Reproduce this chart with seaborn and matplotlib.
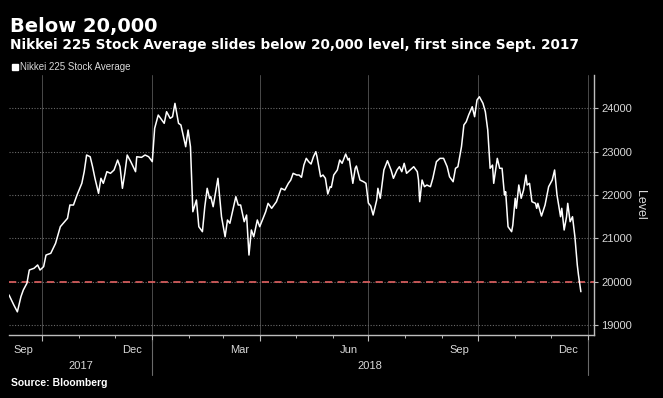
import matplotlib

matplotlib.use("Agg")
import matplotlib.pyplot as plt
import matplotlib.dates as mdates
import matplotlib.transforms as mtransforms
from matplotlib.lines import Line2D
import pandas as pd
import seaborn as sns

# ===================== 数据 =====================
dates = [
    "2017-09-03", "2017-09-07", "2017-09-10", "2017-09-13", "2017-09-15", "2017-09-18", "2017-09-20",
    "2017-09-24", "2017-09-27", "2017-09-29", "2017-10-02", "2017-10-04", "2017-10-08", "2017-10-12",
    "2017-10-16", "2017-10-22", "2017-10-24", "2017-10-27", "2017-10-30", "2017-11-03", "2017-11-05",
    "2017-11-07", "2017-11-10", "2017-11-12", "2017-11-14", "2017-11-17", "2017-11-19", "2017-11-21",
    "2017-11-24", "2017-11-27", "2017-11-30", "2017-12-03", "2017-12-05", "2017-12-07", "2017-12-09",
    "2017-12-11", "2017-12-14", "2017-12-18", "2017-12-19", "2017-12-23", "2017-12-26", "2017-12-29",
    "2018-01-01", "2018-01-03", "2018-01-06", "2018-01-08", "2018-01-11", "2018-01-13", "2018-01-16",
    "2018-01-18", "2018-01-20", "2018-01-23", "2018-01-25", "2018-01-29", "2018-01-31", "2018-02-02",
    "2018-02-04", "2018-02-07", "2018-02-08", "2018-02-09", "2018-02-12", "2018-02-14", "2018-02-16",
    "2018-02-18", "2018-02-19", "2018-02-21", "2018-02-25", "2018-02-28", "2018-03-03", "2018-03-05",
    "2018-03-07", "2018-03-12", "2018-03-14", "2018-03-16", "2018-03-19", "2018-03-21", "2018-03-23",
    "2018-03-25", "2018-03-27", "2018-03-30", "2018-04-01", "2018-04-06", "2018-04-08", "2018-04-11",
    "2018-04-15", "2018-04-19", "2018-04-22", "2018-04-25", "2018-04-27", "2018-04-29", "2018-05-02",
    "2018-05-04", "2018-05-06", "2018-05-08", "2018-05-10", "2018-05-12", "2018-05-14", "2018-05-16",
    "2018-05-18", "2018-05-19", "2018-05-22", "2018-05-24", "2018-05-26", "2018-05-28", "2018-05-30",
    "2018-05-31", "2018-06-02", "2018-06-05", "2018-06-07", "2018-06-09", "2018-06-12", "2018-06-14",
    "2018-06-15", "2018-06-18", "2018-06-20", "2018-06-21", "2018-06-24", "2018-06-27", "2018-06-29",
    "2018-07-01", "2018-07-03", "2018-07-05", "2018-07-08", "2018-07-09", "2018-07-11", "2018-07-14",
    "2018-07-17", "2018-07-20", "2018-07-22", "2018-07-25", "2018-07-27", "2018-07-29", "2018-07-31",
    "2018-08-02", "2018-08-05", "2018-08-08", "2018-08-11", "2018-08-12", "2018-08-13", "2018-08-15",
    "2018-08-17", "2018-08-19", "2018-08-22", "2018-08-24", "2018-08-27", "2018-08-30", "2018-09-02",
    "2018-09-05", "2018-09-07", "2018-09-10", "2018-09-12", "2018-09-14", "2018-09-17", "2018-09-19",
    "2018-09-21", "2018-09-23", "2018-09-26", "2018-09-28", "2018-09-30", "2018-10-02", "2018-10-05",
    "2018-10-07", "2018-10-09", "2018-10-11", "2018-10-13", "2018-10-14", "2018-10-17", "2018-10-19",
    "2018-10-21", "2018-10-23", "2018-10-24", "2018-10-26", "2018-10-29", "2018-10-30", "2018-11-01",
    "2018-11-02", "2018-11-04", "2018-11-06", "2018-11-08", "2018-11-10", "2018-11-11", "2018-11-13",
    "2018-11-15", "2018-11-18", "2018-11-19", "2018-11-20", "2018-11-23", "2018-11-26", "2018-11-29",
    "2018-12-02", "2018-12-04", "2018-12-06", "2018-12-09", "2018-12-10", "2018-12-12", "2018-12-14",
    "2018-12-15", "2018-12-17", "2018-12-19", "2018-12-21", "2018-12-23", "2018-12-24", "2018-12-26",
]
levels = [
    19690, 19460, 19300, 19650, 19805, 19960, 20266,
    20306, 20382, 20266, 20343, 20612, 20652, 20882,
    21267, 21460, 21767, 21767, 22000, 22268, 22537,
    22922, 22882, 22652, 22384, 22037, 22384, 22268,
    22537, 22499, 22576, 22806, 22652, 22153, 22499,
    22922, 22768, 22537, 22882, 22868, 22922, 22882,
    22768, 23538, 23845, 23769, 23654, 23922, 23769,
    23806, 24115, 23654, 23615, 23113, 23499, 23113,
    21612, 21883, 21575, 21266, 21151, 21728, 22153,
    21922, 21959, 21728, 22384, 21497, 21035, 21421,
    21345, 21959, 21767, 21767, 21382, 21536, 20612,
    21190, 21035, 21421, 21266, 21612, 21806, 21691,
    21844, 22153, 22113, 22268, 22344, 22499, 22460,
    22460, 22407, 22690, 22845, 22768, 22714, 22882,
    22998, 22882, 22420, 22460, 22384, 22021, 22190,
    22176, 22460, 22576, 22806, 22730, 22945, 22806,
    22845, 22268, 22615, 22668, 22344, 22305, 22268,
    21813, 21744, 21536, 21883, 22153, 21922, 22576,
    22790, 22576, 22384, 22576, 22652, 22537, 22730,
    22499, 22576, 22652, 22537, 22344, 21844, 22344,
    22190, 22229, 22190, 22384, 22768, 22845, 22845,
    22652, 22420, 22305, 22615, 22652, 23113, 23615,
    23691, 23845, 24037, 23806, 24192, 24268, 24115,
    23920, 23499, 22615, 22690, 22268, 22845, 22615,
    22615, 22000, 22074, 21266, 21151, 21305, 21922,
    21691, 22229, 21922, 22113, 22460, 22229, 22268,
    21844, 21806, 21691, 21806, 21513, 21767, 22190,
    22344, 22576, 22000, 21497, 21691, 21190, 21497,
    21806, 21382, 21497, 21035, 20382, 20151, 19765,
]
threshold = 20000
y_ticks = [19000, 20000, 21000, 22000, 23000, 24000]
quarter_starts = ["2017-10-01", "2018-01-01", "2018-04-01", "2018-07-01", "2018-10-01", "2019-01-01"]
month_labels = ["Sep", "Dec", "Mar", "Jun", "Sep", "Dec"]
month_label_dates = ["2017-09-15", "2017-12-15", "2018-03-15", "2018-06-15", "2018-09-15", "2018-12-15"]
year_labels = ["2017", "2018"]
year_bounds = ["2017-09-03", "2018-01-01", "2019-01-01"]

df = pd.DataFrame({"date": pd.to_datetime(dates), "level": levels})

# ===================== 样式 =====================
sns.set_style("dark")
plt.rcParams["font.family"] = ["Liberation Sans", "DejaVu Sans"]
axis_gray = "#bdbdbd"
text_gray = "#d9d9d9"

fig = plt.figure(figsize=(6.63, 3.98), dpi=100, facecolor="black")
ax = fig.add_axes([9 / 663, 63 / 398, 585 / 663, 260 / 398])
ax.set_facecolor("black")

# 网格
ax.set_yticks(y_ticks)
ax.set_xticks(pd.to_datetime(quarter_starts))
ax.xaxis.set_minor_locator(mdates.MonthLocator())
ax.grid(axis="y", color="#6a6a6a", ls=(0, (1, 1.5)), lw=0.8)
ax.grid(axis="x", which="major", color="#4a4a4a", ls="-", lw=0.7)

# 20000 参考线 + 指数曲线
ax.axhline(threshold, color="#d25b5b", lw=1.3, ls=(0, (4, 3)), zorder=2)
sns.lineplot(data=df, x="date", y="level", color="white", lw=1.1, ax=ax, zorder=3)

ax.set_xlim(pd.Timestamp("2017-09-03"), pd.Timestamp("2019-01-06"))
ax.set_ylim(18765, 24770)
ax.set_xlabel("")

# 坐标轴
for side in ["top", "left"]:
    ax.spines[side].set_visible(False)
for side in ["right", "bottom"]:
    ax.spines[side].set_color(axis_gray)
    ax.spines[side].set_linewidth(1.0)

ax.yaxis.tick_right()
ax.yaxis.set_label_position("right")
ax.tick_params(axis="y", which="both", right=True, left=False, direction="out", length=3,
               width=0.8, color=axis_gray, labelcolor=text_gray, labelsize=8, pad=2)
ax.set_ylabel("Level", rotation=270, color=text_gray, fontsize=9, va="center")
ax.yaxis.set_label_coords((640 - 9) / 585, 0.5)

ax.set_xticklabels([])
ax.tick_params(axis="x", which="major", bottom=True, direction="out", length=4, width=0.8, color=axis_gray)
ax.tick_params(axis="x", which="minor", bottom=True, direction="out", length=2.5, width=0.7, color=axis_gray)

trans = mtransforms.blended_transform_factory(ax.transData, ax.transAxes)
for lab, d in zip(month_labels, pd.to_datetime(month_label_dates)):
    ax.text(d, -0.058, lab, transform=trans, ha="center", va="center", color=text_gray, fontsize=8)

bounds = pd.to_datetime(year_bounds)
for i, lab in enumerate(year_labels):
    mid = bounds[i] + (bounds[i + 1] - bounds[i]) / 2
    ax.text(mid, -0.119, lab, transform=trans, ha="center", va="center", color=text_gray, fontsize=8)
for b in bounds[1:]:
    ax.plot([b, b], [-0.019, -0.154], transform=trans, color="#6a6a6a", lw=0.8, clip_on=False)

# 标题 / 图例 / 来源
fig.text(10 / 663, 1 - 32 / 398, "Below 20,000", color="white", fontsize=14, fontweight="bold",
         family="DejaVu Sans", va="baseline")
fig.text(10 / 663, 1 - 49 / 398, "Nikkei 225 Stock Average slides below 20,000 level, first since Sept. 2017",
         color="white", fontsize=9.8, fontweight="bold", family="DejaVu Sans", va="baseline")
handle = Line2D([], [], marker="s", color="white", linestyle="none", markersize=4.5)
fig.legend([handle], ["Nikkei 225 Stock Average"], loc="center left",
           bbox_to_anchor=(11 / 663, 1 - 67 / 398), frameon=False, handletextpad=0.1,
           handlelength=0.8, borderpad=0, borderaxespad=0, fontsize=7, labelcolor=text_gray)
fig.text(11 / 663, 1 - 383 / 398, "Source: Bloomberg", color="white", fontsize=7.5,
         fontweight="bold", va="center")

fig.savefig("out.png", dpi=100, facecolor="black")
plt.close(fig)
